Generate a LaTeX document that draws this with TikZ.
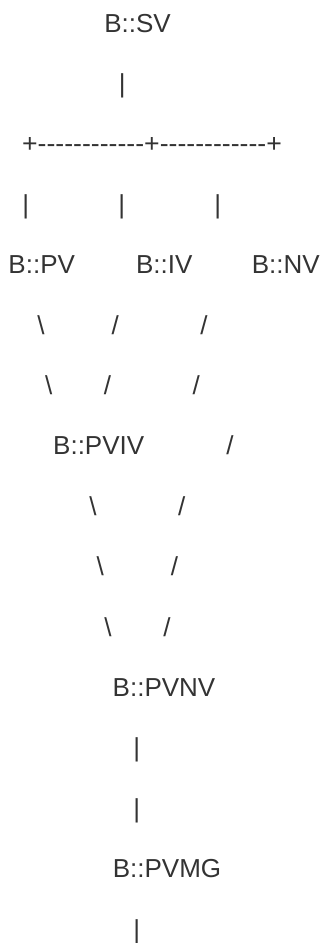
\documentclass[tikz,border=0pt]{standalone}
\usepackage{fontspec}
\setmainfont{Liberation Sans}[Ligatures=TeXOff]
\usepackage{tikz}
\definecolor{inkgrey}{HTML}{333333}
\tikzset{art/.style={anchor=base,inner sep=0pt,text=inkgrey,font=\fontsize{26bp}{30bp}\selectfont}}

\begin{document}
\begin{tikzpicture}[x=1bp,y=-1bp]
		%%%%% START %%%%%
		\useasboundingbox (0,0) rectangle (324,943);
		
		\node[art] (sv) at (137.5, 32) {B::SV};
		\node[art] (svbar) at (122.3, 92.4) {|};
		\node[art,xscale=1.025] (fork) at (152, 152.8) {+------------+------------+};
		
		\node[art] (pvbar) at (25.7, 213.2) {|};
		\node[art] (ivbar) at (121.7, 213.2) {|};
		\node[art] (nvbar) at (217.7, 213.2) {|};
		
		\node[art] (pv) at (41.7, 273.6) {B::PV};
		\node[art] (iv) at (164.3, 273.6) {B::IV};
		\node[art] (nv) at (285.8, 273.6) {B::NV};
		
		\node[art] (pvl1) at (41, 334) {\textbackslash};
		\node[art] (ivr1) at (115.3, 334) {/};
		\node[art] (nvr1) at (204, 334) {/};
		\node[art] (pvl2) at (48.7, 394.4) {\textbackslash};
		\node[art] (ivr2) at (107.5, 394.4) {/};
		\node[art] (nvr2) at (196.3, 394.4) {/};
		
		\node[art] (pviv) at (98.7, 454.8) {B::PVIV};
		\node[art] (nvr3) at (230, 454.8) {/};
		
		\node[art] (pvivl1) at (93, 515.2) {\textbackslash};
		\node[art] (nvr4) at (181.7, 515.2) {/};
		\node[art] (pvivl2) at (100.3, 575.6) {\textbackslash};
		\node[art] (nvr5) at (174.5, 575.6) {/};
		\node[art] (pvivl3) at (108, 636) {\textbackslash};
		\node[art] (nvr6) at (167, 636) {/};
		
		\node[art] (pvnv) at (164, 696.4) {B::PVNV};
		\node[art] (pvnvbar1) at (136.7, 756.8) {|};
		\node[art] (pvnvbar2) at (136.7, 817.2) {|};
		\node[art] (pvmg) at (167, 877.6) {B::PVMG};
		\node[art] (pvmgbar) at (136.7, 938) {|};
		%%%%% END %%%%%
\end{tikzpicture}
\end{document}
